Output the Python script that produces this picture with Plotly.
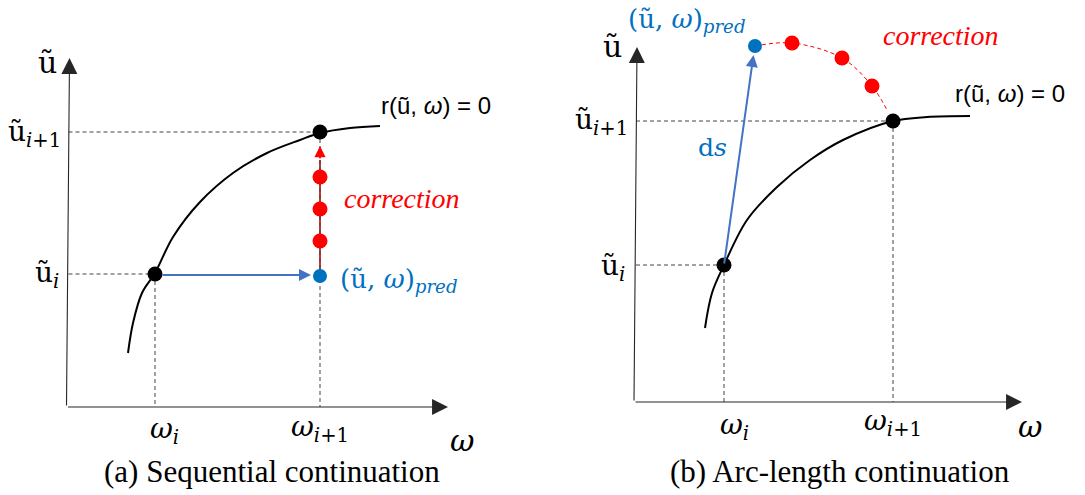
import plotly.graph_objects as go

# Schematic in pixel space: x to the right, y downwards (axis reversed below).

# (a) Sequential continuation
curve_a_x = [128, 133, 142, 155, 173, 200, 233, 267, 300, 320, 350, 380]
curve_a_y = [353, 323, 293, 273, 237, 202, 173, 153, 140, 133, 128, 126]
sol_a_x = [155, 320]
sol_a_y = [274, 132]
corr_a_x = [320, 320, 320]
corr_a_y = [177, 209, 241]
pred_a = (320, 276)
axis_a = dict(origin=(66.5, 407), ytip=(69.5, 58), xtip=(448, 407))

# (b) Arc-length continuation
curve_b_x = [705, 712, 724, 747, 777, 810, 843, 893, 927, 970]
curve_b_y = [328, 293, 265, 220, 187, 160, 140, 121, 117, 116]
sol_b_x = [724, 893]
sol_b_y = [265, 121]
arc_b_x = [755, 792, 842, 872, 887]
arc_b_y = [46, 43, 58, 86, 110]
corr_b_x = [792, 842, 872]
corr_b_y = [43, 58, 86]
pred_b = (755, 46)
axis_b = dict(origin=(634, 402), ytip=(637, 47), xtip=(1022, 402))

BLUE = "#0070C0"
ARROW_BLUE = "#4472C4"
RED = "#FF0000"
AX = "#262626"
DASH = "#444444"
SERIF = "Liberation Serif"
MATH = "DejaVu Serif"

fig = go.Figure()


def dashed(x0, y0, x1, y1):
    fig.add_trace(go.Scatter(x=[x0, x1], y=[y0, y1], mode="lines",
                             line=dict(color=DASH, width=1, dash="4px,3px"),
                             hoverinfo="skip"))


def arrow(x0, y0, x1, y1, color, width=1.3, size=1.6, head=2):
    fig.add_annotation(x=x1, y=y1, ax=x0, ay=y0, xref="x", yref="y",
                       axref="x", ayref="y", showarrow=True, text="",
                       arrowhead=head, arrowsize=size, arrowwidth=width,
                       arrowcolor=color, standoff=0)


def label(x, y, text, size=22, color="black", family=MATH, xanchor="center"):
    fig.add_annotation(x=x, y=y, text=text, showarrow=False, xanchor=xanchor,
                       yanchor="middle", font=dict(size=size, color=color, family=family))


def dots(xs, ys, color, size=15):
    fig.add_trace(go.Scatter(x=xs, y=ys, mode="markers",
                             marker=dict(color=color, size=size, line=dict(width=0)),
                             hoverinfo="skip"))


for ax in (axis_a, axis_b):
    ox, oy = ax["origin"]
    arrow(ox, oy, *ax["ytip"], AX, width=1.1, size=2.9)
    arrow(ox, oy, *ax["xtip"], AX, width=1.1, size=2.9)

# panel (a)
dashed(axis_a["origin"][0] + 2, sol_a_y[1], sol_a_x[1], sol_a_y[1])
dashed(axis_a["origin"][0] + 2, sol_a_y[0], sol_a_x[0], sol_a_y[0])
dashed(sol_a_x[0], sol_a_y[0], sol_a_x[0], axis_a["origin"][1])
fig.add_trace(go.Scatter(x=[pred_a[0], pred_a[0]], y=[pred_a[1], 160], mode="lines",
                         line=dict(color="#C00000", width=1.6), hoverinfo="skip"))
arrow(pred_a[0], 160, pred_a[0], 146, RED, width=1.6, size=1.4)
dashed(sol_a_x[1], sol_a_y[1], sol_a_x[1], axis_a["origin"][1])
fig.add_trace(go.Scatter(x=curve_a_x, y=curve_a_y, mode="lines",
                         line=dict(color="black", width=2, shape="spline"),
                         hoverinfo="skip"))
arrow(sol_a_x[0] + 6, sol_a_y[0] + 1, pred_a[0] - 9, pred_a[1] - 1, ARROW_BLUE, width=2, size=1.2)
dots(corr_a_x, corr_a_y, RED)
dots([pred_a[0]], [pred_a[1]], BLUE, 14)
dots(sol_a_x, sol_a_y, "black")

# panel (b)
dashed(axis_b["origin"][0] + 2, sol_b_y[1], sol_b_x[1], sol_b_y[1])
dashed(axis_b["origin"][0] + 2, sol_b_y[0], sol_b_x[0], sol_b_y[0])
dashed(sol_b_x[0], sol_b_y[0], sol_b_x[0], axis_b["origin"][1])
dashed(sol_b_x[1], sol_b_y[1], sol_b_x[1], axis_b["origin"][1])
fig.add_trace(go.Scatter(x=curve_b_x, y=curve_b_y, mode="lines",
                         line=dict(color="black", width=2, shape="spline"),
                         hoverinfo="skip"))
fig.add_trace(go.Scatter(x=arc_b_x, y=arc_b_y, mode="lines",
                         line=dict(color=RED, width=1, dash="4px,3px", shape="spline"),
                         hoverinfo="skip"))
arrow(sol_b_x[0], sol_b_y[0], pred_b[0] - 1.5, pred_b[1] + 9, ARROW_BLUE, width=2, size=1.2)
dots(corr_b_x, corr_b_y, RED)
dots([pred_b[0]], [pred_b[1]], BLUE, 14)
dots(sol_b_x, sol_b_y, "black")

# labels (a)
label(47, 62, "ũ", 30)
label(63, 133, "ũ<sub><i>i</i>+1</sub>", 28, xanchor="right")
label(61, 274, "ũ<sub><i>i</i></sub>", 28, xanchor="right")
label(164, 430, "<i>ω</i><sub><i>i</i></sub>", 28)
label(320, 428, "<i>ω</i><sub><i>i</i>+1</sub>", 28)
label(462, 440, "<i>ω</i>", 30)
label(379, 105, "r(ũ, <i>ω</i>) = 0", 24, family="Liberation Sans", xanchor="left")
label(342, 198, "<i>correction</i>", 28, RED, SERIF, "left")
label(338, 280, "(ũ, <i>ω</i>)<sub><i>pred</i></sub>", 26, BLUE, xanchor="left")
label(272, 471, "(a) Sequential continuation", 31, family=SERIF)

# labels (b)
label(612, 46, "ũ", 30)
label(630, 121, "ũ<sub><i>i</i>+1</sub>", 28, xanchor="right")
label(627, 267, "ũ<sub><i>i</i></sub>", 28, xanchor="right")
label(734, 426, "<i>ω</i><sub><i>i</i></sub>", 28)
label(893, 422, "<i>ω</i><sub><i>i</i>+1</sub>", 28)
label(1030, 426, "<i>ω</i>", 30)
label(953, 93, "r(ũ, <i>ω</i>) = 0", 24, family="Liberation Sans", xanchor="left")
label(881, 35, "<i>correction</i>", 28, RED, SERIF, "left")
label(626, 20, "(ũ, <i>ω</i>)<sub><i>pred</i></sub>", 26, BLUE, xanchor="left")
label(712, 147, "d<i>s</i>", 25, BLUE)
label(840, 471, "(b) Arc-length continuation", 31, family=SERIF)

fig.update_layout(
    width=1085, height=495,
    margin=dict(l=0, r=0, t=0, b=0),
    paper_bgcolor="white", plot_bgcolor="white",
    showlegend=False,
    xaxis=dict(range=[0, 1085], visible=False, fixedrange=True),
    yaxis=dict(range=[495, 0], visible=False, fixedrange=True),
)

fig.write_html("out.html", config={"displayModeBar": False},
               post_script="document.body.style.margin='0';")
